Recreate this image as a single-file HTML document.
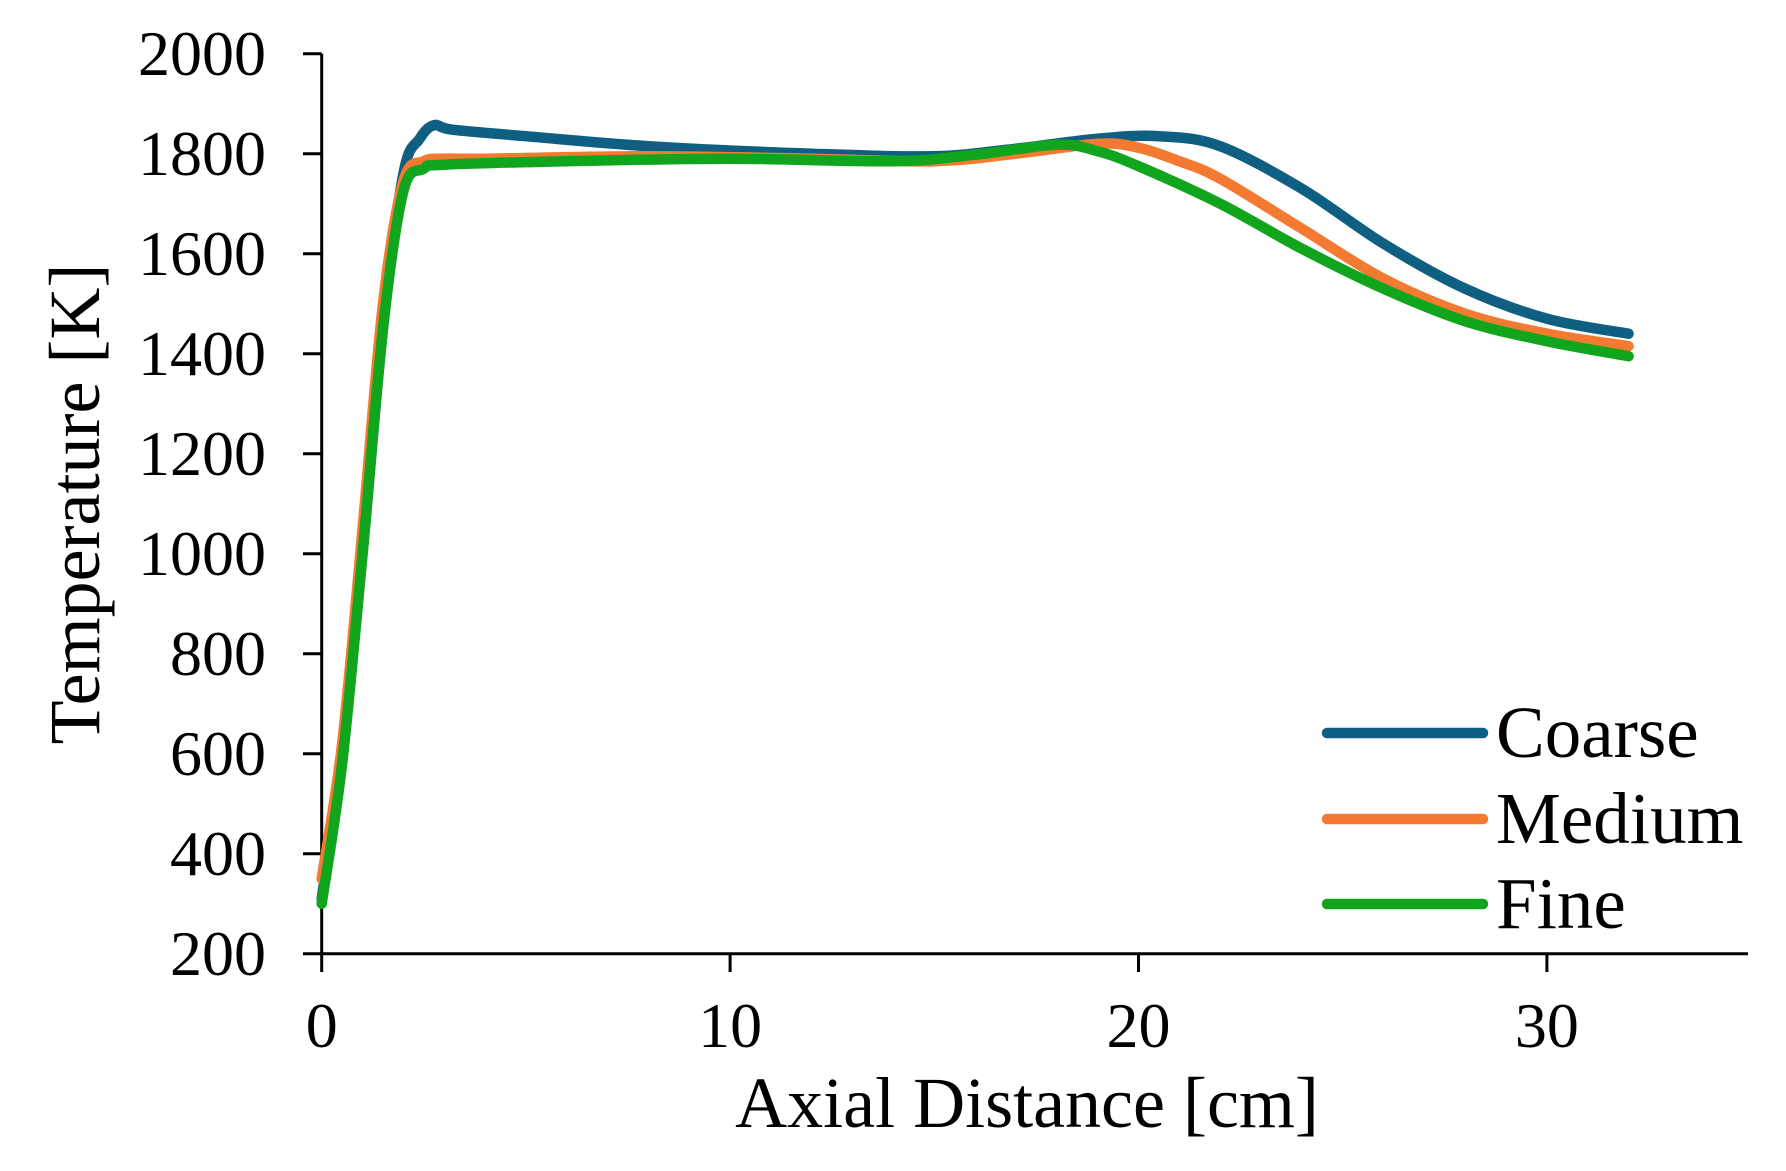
<!DOCTYPE html>
<html><head><meta charset="utf-8"><style>
html,body{margin:0;padding:0;background:#fff;}
svg{display:block;font-family:"Liberation Serif",serif;}
</style></head><body>
<svg id="s" width="1786" height="1171" viewBox="0 0 1786 1171" xmlns="http://www.w3.org/2000/svg">
<g stroke="#000" stroke-width="3" fill="none">
<line x1="321.7" y1="53.8" x2="321.7" y2="953.7"/>
<line x1="321.7" y1="953.7" x2="1748" y2="953.7"/>
<line x1="303" y1="53.8" x2="321.7" y2="53.8"/>
<line x1="303" y1="153.8" x2="321.7" y2="153.8"/>
<line x1="303" y1="253.8" x2="321.7" y2="253.8"/>
<line x1="303" y1="353.8" x2="321.7" y2="353.8"/>
<line x1="303" y1="453.8" x2="321.7" y2="453.8"/>
<line x1="303" y1="553.8" x2="321.7" y2="553.8"/>
<line x1="303" y1="653.8" x2="321.7" y2="653.8"/>
<line x1="303" y1="753.8" x2="321.7" y2="753.8"/>
<line x1="303" y1="853.8" x2="321.7" y2="853.8"/>
<line x1="303" y1="953.7" x2="321.7" y2="953.7"/>
<line x1="321.7" y1="953.7" x2="321.7" y2="972"/>
<line x1="730.1" y1="953.7" x2="730.1" y2="972"/>
<line x1="1138.5" y1="953.7" x2="1138.5" y2="972"/>
<line x1="1546.9" y1="953.7" x2="1546.9" y2="972"/>
</g>
<g font-size="64" text-anchor="end" fill="#000">
<text x="266" y="75">2000</text>
<text x="266" y="175">1800</text>
<text x="266" y="275">1600</text>
<text x="266" y="375">1400</text>
<text x="266" y="475">1200</text>
<text x="266" y="575">1000</text>
<text x="266" y="675">800</text>
<text x="266" y="775">600</text>
<text x="266" y="875">400</text>
<text x="266" y="975">200</text>
</g>
<g font-size="64" text-anchor="middle" fill="#000">
<text x="321.7" y="1047">0</text>
<text x="730.1" y="1047">10</text>
<text x="1138.5" y="1047">20</text>
<text x="1546.9" y="1047">30</text>
</g>
<text x="1027" y="1127" font-size="72" text-anchor="middle">Axial Distance [cm]</text>
<text transform="translate(99,504) rotate(-90)" font-size="72" text-anchor="middle">Temperature [K]</text>
<g id="curves" fill="none" stroke-width="10.5" stroke-linecap="round" stroke-linejoin="round"></g>
<g stroke-width="10.5" stroke-linecap="round">
<line x1="1327" y1="733" x2="1483" y2="733" stroke="#0e5f82"/>
<line x1="1327" y1="819" x2="1483" y2="819" stroke="#f47a32"/>
<line x1="1327" y1="904" x2="1483" y2="904" stroke="#10a51c"/>
</g>
<g font-size="73" fill="#000">
<text x="1496" y="757">Coarse</text>
<text x="1496" y="843">Medium</text>
<text x="1496" y="928">Fine</text>
</g>
</svg>
<script>
var X=function(d){return 321.7+40.84*d;},Y=function(t){return 953.7-(t-200)*0.5;};
var data=[
["#0e5f82",[[0,310],[0.5,600],[1,1000],[1.5,1450],[2,1760],[2.4,1830],[2.75,1857],[3.2,1848],[5,1835],[8,1815],[12,1800],[15,1795],[17,1810],[19,1830],[20.5,1835],[22,1815],[24,1730],[26,1620],[28,1530],[30,1470],[32,1440]]],
["#f47a32",[[0,350],[0.5,620],[1,1050],[1.5,1500],[2,1745],[2.5,1785],[3,1790],[4,1790],[8,1795],[12,1790],[15,1785],[17,1800],[19,1820],[20,1812],[21,1785],[22,1750],[24,1650],[26,1550],[28,1480],[30,1440],[32,1415]]],
["#10a51c",[[0,300],[0.5,580],[1,1000],[1.5,1450],[2,1725],[2.5,1770],[3,1778],[6,1785],[10,1790],[14,1785],[16,1798],[18,1818],[19,1805],[20,1775],[22,1700],[24,1610],[26,1530],[28,1465],[30,1425],[32,1395]]]
];
var g=document.getElementById("curves");
data.forEach(function(s){
 var p=s[1].map(function(a){return [X(a[0]),Y(a[1])];});
 var d="M"+p[0][0]+","+p[0][1];
 for(var i=0;i<p.length-1;i++){
  var p0=p[i-1]||p[i],p1=p[i],p2=p[i+1],p3=p[i+2]||p2;
  var c1=[p1[0]+(p2[0]-p0[0])/6,p1[1]+(p2[1]-p0[1])/6];
  var c2=[p2[0]-(p3[0]-p1[0])/6,p2[1]-(p3[1]-p1[1])/6];
  d+=" C"+c1+" "+c2+" "+p2;
 }
 var e=document.createElementNS("http://www.w3.org/2000/svg","path");
 e.setAttribute("d",d);e.setAttribute("stroke",s[0]);g.appendChild(e);
});
</script>
</body></html>
